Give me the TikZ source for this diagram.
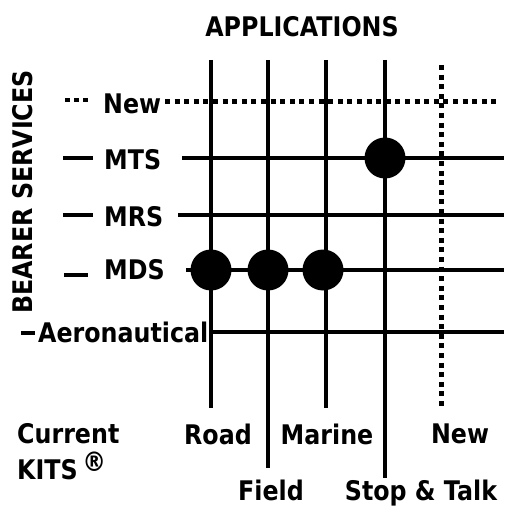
\documentclass[tikz,border=0pt]{standalone}
\usepackage{fontspec}
\setmainfont{DejaVu Sans}[FakeStretch=0.88]
\begin{document}
\begin{tikzpicture}[x=1pt,y=-1pt,
  solidln/.style={line width=4.5pt},
  dotln/.style={line width=5pt, dash pattern=on 5pt off 4.6pt},
  bigdot/.style={circle, fill=black, minimum size=41pt, inner sep=0pt},
  lbl/.style={font=\fontsize{27}{30}\selectfont\bfseries, inner sep=0pt}]
\useasboundingbox (0,0) rectangle (504,510);
% vertical application lines
\coordinate (roadT) at (211,60);   \coordinate (roadB) at (211,408);
\coordinate (fieldT) at (268,60);  \coordinate (fieldB) at (268,468);
\coordinate (marineT) at (326,60); \coordinate (marineB) at (326,408);
\coordinate (stopT) at (385,60);   \coordinate (stopB) at (385,478);
\coordinate (newT) at (441,65);    \coordinate (newB) at (441,410);
% horizontal bearer lines
\coordinate (newL) at (165,102);  \coordinate (newR) at (500,102);
\coordinate (mtsL) at (182,158);  \coordinate (mtsR) at (504,158);
\coordinate (mrsL) at (178,215);  \coordinate (mrsR) at (504,215);
\coordinate (mdsL) at (186,270);  \coordinate (mdsR) at (504,270);
\coordinate (aeroL) at (211,332); \coordinate (aeroR) at (504,332);

\draw[solidln] (roadT) -- (roadB);
\draw[solidln] (fieldT) -- (fieldB);
\draw[solidln] (marineT) -- (marineB);
\draw[solidln] (stopT) -- (stopB);
\draw[dotln] (newT) -- (newB);

\draw[dotln] (newL) -- (newR);
\draw[solidln] (mtsL) -- (mtsR);
\draw[solidln] (mrsL) -- (mrsR);
\draw[solidln] (mdsL) -- (mdsR);
\draw[solidln] (aeroL) -- (aeroR);

% filled intersection dots
\node[bigdot] (d1) at (211,270) {};
\node[bigdot] (d2) at (268,270) {};
\node[bigdot] (d3) at (323,270) {};
\node[bigdot] (d4) at (385,158) {};

% left labels
\coordinate (nd1) at (65,100); \coordinate (nd2) at (88,100);
\draw[line width=4.5pt, dash pattern=on 4.5pt off 4.5pt] (nd1) -- (nd2);
\node[lbl, anchor=west] (lnew) at (103,104) {New};
\coordinate (md1) at (63,158); \coordinate (md2) at (93,158);
\draw[solidln] (md1) -- (md2);
\node[lbl, anchor=west] (lmts) at (104,160) {MTS};
\coordinate (rd1) at (63,215); \coordinate (rd2) at (93,215);
\draw[solidln] (rd1) -- (rd2);
\node[lbl, anchor=west] (lmrs) at (104,217) {MRS};
\coordinate (sd1) at (64,275); \coordinate (sd2) at (88,275);
\draw[solidln] (sd1) -- (sd2);
\node[lbl, anchor=west] (lmds) at (104,270) {MDS};
\coordinate (ad1) at (21,333); \coordinate (ad2) at (35,333);
\draw[solidln] (ad1) -- (ad2);
\node[lbl, anchor=west] (laero) at (38,332) {Aeronautical};

\node[lbl, rotate=90] (bearer) at (23,192) {BEARER SERVICES};
\node[lbl] (apps) at (302,27) {APPLICATIONS};

% bottom labels
\node[lbl, anchor=west] (cur) at (17,434) {Current};
\node[lbl, anchor=west] (kits) at (17,466) {KITS\,\raisebox{0.5ex}{\textregistered}};
\node[lbl] (lroad) at (218,434) {Road};
\node[lbl] (lmarine) at (327,434) {Marine};
\node[lbl] (lnewapp) at (460,434) {New};
\node[lbl] (lfield) at (271,490) {Field};
\node[lbl] (lstop) at (421,493) {Stop \& Talk};
\end{tikzpicture}
\end{document}
